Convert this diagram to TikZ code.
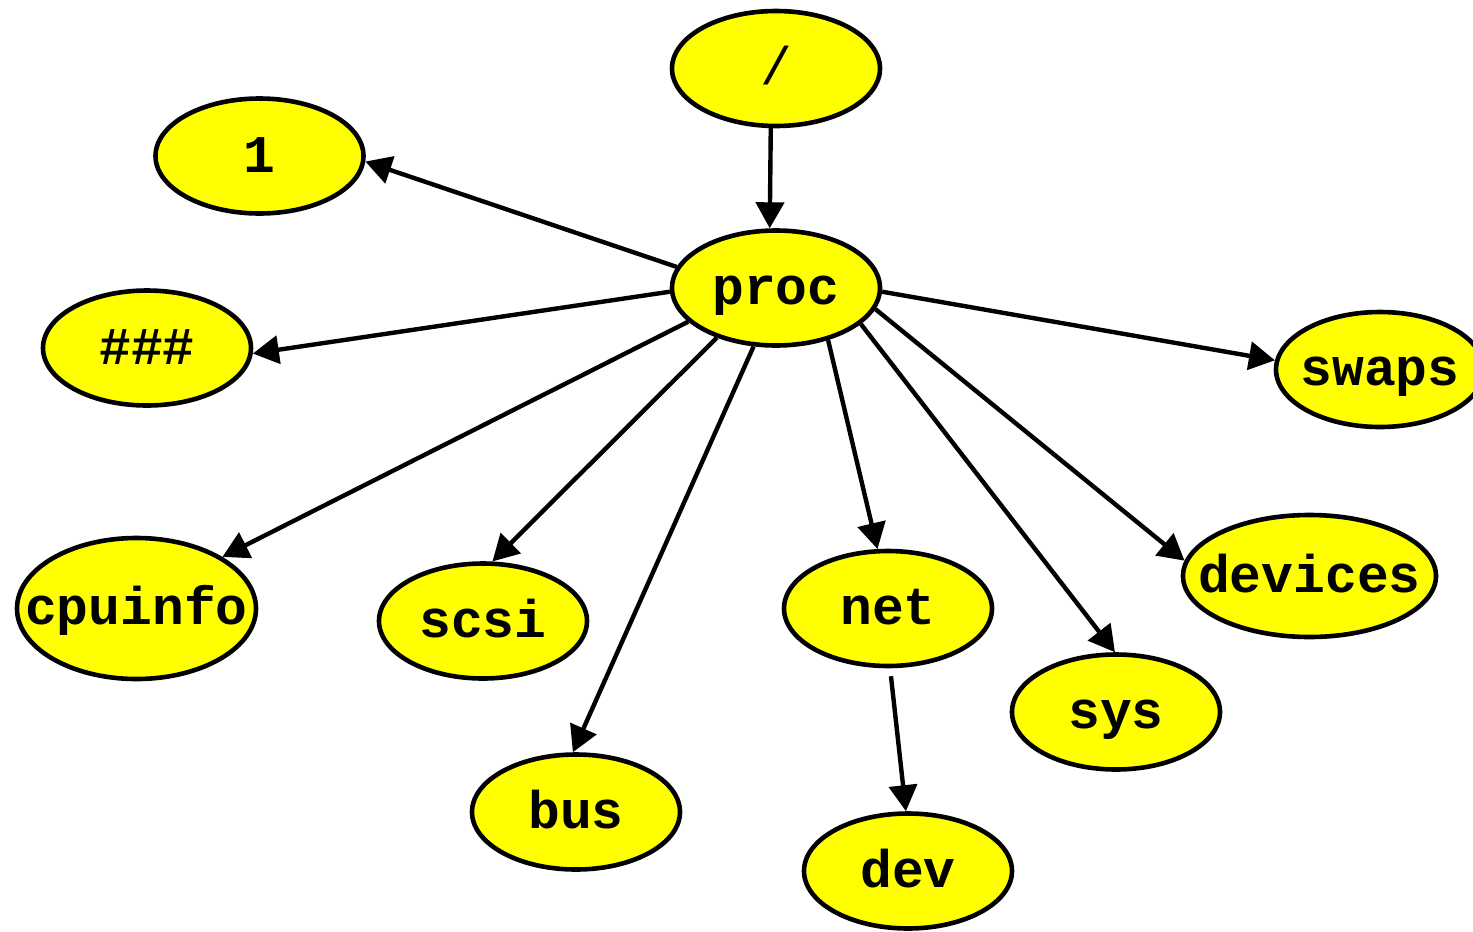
\documentclass[tikz,border=0pt]{standalone}
\usepackage{fontspec}
\setmonofont{Liberation Mono}
\usetikzlibrary{shapes.geometric,arrows.meta}
\definecolor{dirfill}{RGB}{255,255,0}
\newcommand{\dirname}[1]{\makebox[0pt]{#1}}

\begin{document}
\begin{tikzpicture}[x=0.5pt, y=-0.5pt,
  every node/.style = {shape=ellipse, draw, line width=2.3pt,
    fill=dirfill, inner sep=0pt,
    minimum width=104pt, minimum height=57.5pt,
    text height=20pt, text depth=4pt,
    font=\fontsize{26.5}{30}\selectfont\ttfamily\bfseries},
  link/.style = {line width=2.2pt, -{Triangle[length=13pt, width=14pt]}}]
  \useasboundingbox (0,0) rectangle (1473,932);

  \node (root) at (776,68.5) {\dirname{\mdseries /}};
  \node (proc) at (776,288) {\dirname{proc}};
  \node (one) at (259.5,156) {\dirname{1}};
  \node (hash) at (147,348) {\dirname{\#\#\#}};
  \node (swaps) at (1380,369.5) {\dirname{swaps}};
  \node[minimum width=119.5pt, minimum height=70.5pt] (cpuinfo) at (136.5,608.5) {\dirname{cpuinfo}};
  \node (scsi) at (483,621) {\dirname{scsi}};
  \node (net) at (888,608.5) {\dirname{net}};
  \node[minimum width=126.5pt, minimum height=61pt] (devices) at (1309.5,576) {\dirname{devices}};
  \node (sys) at (1116,712) {\dirname{sys}};
  \node (bus) at (576,812) {\dirname{bus}};
  \node (dev) at (908,871) {\dirname{dev}};

  \draw[link] (root.265) -- (proc.96);
  \draw[link] (proc.168) -- (one.-3);
  \draw[link] (proc.182) -- (hash.-3);
  \draw[link] (proc.201) -- (cpuinfo.31);
  \draw[link] (proc.220) -- (scsi.81);
  \draw[link] (proc.249) -- (bus.93);
  \draw[link] (proc.-45) -- (net.100);
  \draw[link] (proc.-23) -- (sys.91);
  \draw[link] (proc.-12) -- (devices.173);
  \draw[link] (proc.-2) -- (swaps.175);
  \draw[link, shorten <=4pt] (net.-88) -- (dev.92);
\end{tikzpicture}
\end{document}
